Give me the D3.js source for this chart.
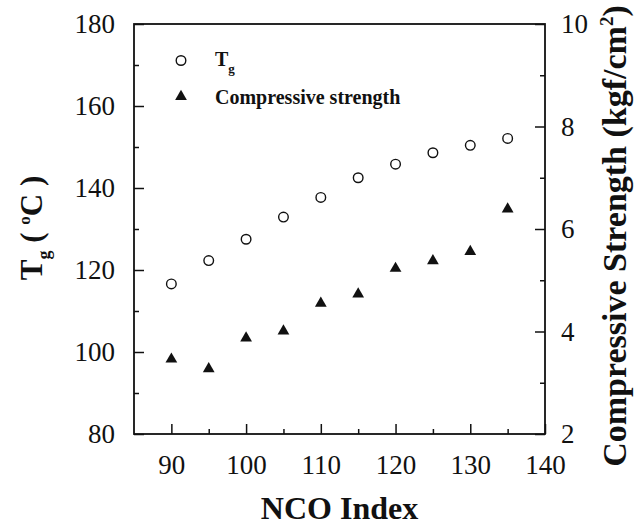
<html>
<meta http-equiv="content-type" content="text/html; charset=UTF8">
<style>
  body {margin:0; background:#fff;}
  text {fill:#111;}
  .axis path {display:none;}
  .axis line {stroke:#111; stroke-width:1.5;}
  .axis text {font-size:27px;}
</style>
<body>
<svg id="svg1" width="643" height="525"></svg>

<script src="https://cdn.jsdelivr.net/npm/d3@7"></script>
<script>
// data
var nco=[90,95,100,105,110,115,120,125,130,135];
var tg=[116.6,122.3,127.5,132.9,137.7,142.5,145.8,148.6,150.4,152.1];
var cs=[3.46,3.27,3.87,4.01,4.55,4.73,5.23,5.38,5.56,6.39];

var xTicks=[90,100,110,120,130,140];
var xMinor=[95,105,115,125,135];
var yTicks=[80,100,120,140,160,180];
var yMinor=[90,110,130,150,170];
var y2Ticks=[2,4,6,8,10];
var y2Minor=[3,5,7,9];

// plot box (note: "top" is a reserved window global, so use other names)
var pLeft=134,pRight=545,pTop=24,pBottom=434;
var serif='"Liberation Serif", "DejaVu Serif", serif';

var svg=d3.select("#svg1");
var x=d3.scaleLinear().domain([85,140]).range([pLeft,pRight]);
var y=d3.scaleLinear().domain([80,180]).range([pBottom,pTop]);
var y2=d3.scaleLinear().domain([2,10]).range([pBottom,pTop]);

// bottom axis
svg.append("g").attr("class","axis").attr("transform","translate(0,"+pBottom+")")
	.call(d3.axisBottom(x).tickValues(xTicks).tickSizeInner(-10).tickSizeOuter(0).tickPadding(21));
svg.append("g").attr("class","axis").attr("transform","translate(0,"+pBottom+")")
	.call(d3.axisBottom(x).tickValues(xMinor).tickSizeInner(-5).tickSizeOuter(0).tickFormat(""));

// left axis
svg.append("g").attr("class","axis").attr("transform","translate("+pLeft+",0)")
	.call(d3.axisLeft(y).tickValues(yTicks).tickSizeInner(-10).tickSizeOuter(0).tickPadding(19));
svg.append("g").attr("class","axis").attr("transform","translate("+pLeft+",0)")
	.call(d3.axisLeft(y).tickValues(yMinor).tickSizeInner(-5).tickSizeOuter(0).tickFormat(""));

// right axis
svg.append("g").attr("class","axis").attr("transform","translate("+pRight+",0)")
	.call(d3.axisRight(y2).tickValues(y2Ticks).tickSizeInner(-10).tickSizeOuter(0).tickPadding(16));
svg.append("g").attr("class","axis").attr("transform","translate("+pRight+",0)")
	.call(d3.axisRight(y2).tickValues(y2Minor).tickSizeInner(-5).tickSizeOuter(0).tickFormat(""));

// frame
svg.append("rect").attr("x",pLeft).attr("y",pTop).attr("width",pRight-pLeft).attr("height",pBottom-pTop)
	.style("fill","none").style("stroke","#111").style("stroke-width","1.8");

// Tg circles
svg.selectAll("circle.tg").data(nco).enter().append("circle")
	.attr("class","tg")
	.attr("cx",function(d){return x(d)})
	.attr("cy",function(d,i){return y(tg[i])})
	.attr("r",4.8)
	.style("fill","#fff").style("stroke","#111").style("stroke-width","1.4");

// compressive strength triangles
var tri=d3.symbol().type(d3.symbolTriangle).size(60);
svg.selectAll("path.cs").data(nco).enter().append("path")
	.attr("class","cs")
	.attr("d",tri)
	.attr("transform",function(d,i){return "translate("+x(d)+","+y2(cs[i])+")"})
	.style("fill","#111");

// legend
svg.append("circle").attr("cx",181).attr("cy",60.5).attr("r",4.8)
	.style("fill","#fff").style("stroke","#111").style("stroke-width","1.4");
var lt=svg.append("text").attr("x",215).attr("y",66).style("font-size","20px").style("font-weight","bold");
lt.append("tspan").text("T");
lt.append("tspan").attr("dy",7).style("font-size","13px").text("g");
svg.append("path").attr("d",tri).attr("transform","translate(181,96.5)").style("fill","#111");
svg.append("text").attr("x",215).attr("y",104).style("font-size","20px").style("font-weight","bold")
	.text("Compressive strength");

// axis titles
svg.append("text").attr("x",(pLeft+pRight)/2).attr("y",519).attr("text-anchor","middle")
	.style("font-size","32px").style("font-weight","bold").text("NCO Index");

var yl=svg.append("text").attr("transform","translate(42,228) rotate(-90)").attr("text-anchor","middle")
	.style("font-size","31px").style("font-weight","bold");
yl.append("tspan").text("T");
yl.append("tspan").attr("dy",8).style("font-size","18px").text("g");
yl.append("tspan").attr("dy",-8).text(" ( ");
yl.append("tspan").attr("dy",-12).style("font-size","17px").text("o");
yl.append("tspan").attr("dy",12).text("C )");

var y2l=svg.append("text").attr("transform","translate(626,236) rotate(-90)").attr("text-anchor","middle")
	.style("font-size","34px").style("font-weight","bold");
y2l.append("tspan").text("Compressive Strength (kgf/cm");
y2l.append("tspan").attr("dy",-13).style("font-size","19px").text("2");
y2l.append("tspan").attr("dy",13).text(")");

svg.selectAll("text").style("font-family",serif);
</script>

</html>
